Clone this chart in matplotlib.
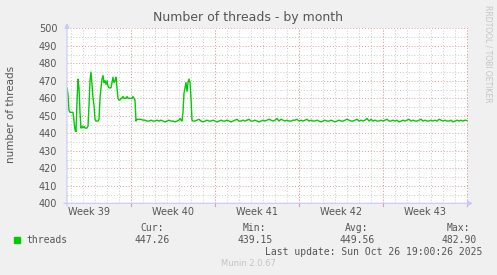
#!/usr/bin/env python3
"""Munin style 'Number of threads - by month' graph."""
import numpy as np
import matplotlib

matplotlib.use("Agg")
import matplotlib.pyplot as plt

# samples: (start hour, step in hours, values)
busy1_start, busy1_step = 0, 2
busy1 = [
    466, 462, 453, 452, 452, 452, 452, 447, 442, 441,
    458, 471, 466, 452, 443, 444, 443, 444, 443, 443,
    443, 444, 456, 470, 475, 468, 460, 456, 448, 447,
    447, 447, 448, 460, 466, 471, 473, 469, 470, 468,
    470, 467, 466, 466, 466, 469, 472, 469, 470, 472,
    466, 460, 459, 459, 460, 460, 461, 460, 460, 460,
    461, 460, 460, 460, 460, 460, 461, 460, 459, 447,
    448,
]
flat1_start, flat1_step = 144, 4
flat1 = [
    448, 448, 447.5, 447.5, 447, 447, 447.5, 447, 447, 447.5,
    447, 447.5, 447, 446.5, 447, 447.5, 447, 447, 446.5, 447,
    447.5,
]
busy2_start, busy2_step = 226, 2
busy2 = [448.5, 447.5, 447, 452, 463, 466, 469, 464, 469, 471, 469, 460, 447.5, 447]
flat2_start, flat2_step = 256, 4
flat2 = [
    447.0, 447.5, 448.0, 447.0, 446.5, 447.0, 447.5, 447.0, 447.0, 447.5,
    447.0, 446.5, 447.0, 447.5, 447.0, 447.0, 447.5, 447.0, 446.5, 447.0,
    447.5, 448.0, 447.0, 447.0, 447.5, 447.0, 447.5, 448.0, 447.0, 447.0,
    447.5, 447.0, 446.5, 447.0, 447.5, 447.0, 447.5, 448.0, 447.5, 447.0,
    447.5, 448.5, 447.0, 448.0, 447.5, 447.0, 447.5, 447.0, 447.0, 447.5,
    447.5, 448.0, 447.0, 447.5, 447.0, 447.5, 448.0, 447.0, 447.5, 447.0,
    447.0, 447.5, 447.0, 446.5, 447.0, 447.5, 447.0, 447.0, 447.5, 447.0,
    446.5, 447.0, 447.5, 447.0, 447.0, 447.5, 448.0, 447.5, 447.0, 447.0,
    447.5, 448.0, 447.0, 447.5, 447.0, 447.5, 448.5, 447.0, 448.0, 447.0,
    447.5, 447.0, 447.0, 447.5, 447.0, 447.5, 448.0, 447.0, 447.0, 447.5,
    447.0, 447.5, 446.5, 447.0, 447.5, 447.0, 447.5, 448.0, 447.0, 447.5,
    447.0, 447.0, 447.5, 448.0, 447.0, 447.5, 447.0, 447.0, 447.5, 447.0,
    447.5, 447.0, 448.0, 447.5, 447.0, 447.5, 447.0, 447.0, 447.5, 446.5,
    447.0, 447.5, 447.0, 447.5, 447.0, 447.5, 447.3,
]

week_labels = ["Week 39", "Week 40", "Week 41", "Week 42", "Week 43"]
week40_start = 128  # hours from graph start
legend_heads = ["Cur:", "Min:", "Avg:", "Max:"]
legend_values = ["447.26", "439.15", "449.56", "482.90"]

W, H = 497, 275
BG = "#F0F0F0"
TXT = "#555555"
GREEN = "#00CC00"
MINOR = "#CACACA"
MAJOR = "#E09C9C"


def segment(start, step, vals):
    return start + step * np.arange(len(vals)), np.array(vals, dtype=float)


segs = [
    segment(busy1_start, busy1_step, busy1),
    segment(flat1_start, flat1_step, flat1),
    segment(busy2_start, busy2_step, busy2),
    segment(flat2_start, flat2_step, flat2),
]
hours = np.concatenate([s[0] for s in segs])
threads = np.concatenate([s[1] for s in segs])

fig = plt.figure(figsize=(W / 100, H / 100), dpi=100, facecolor=BG)
ax = fig.add_axes([67 / W, (H - 203.3) / H, 401 / W, 175 / H])
ax.set_facecolor("white")
xmax = 802
ax.set_xlim(0, xmax)
ax.set_ylim(400, 500)
for s in ax.spines.values():
    s.set_visible(False)

# grid
dots = (0, (1, 2))
for d in np.arange(week40_start % 24, xmax, 24):
    ax.axvline(d, color=MINOR, lw=0.7, ls=dots, zorder=1)
for y in np.arange(405, 500, 10):
    ax.axhline(y, color=MINOR, lw=0.7, ls=dots, zorder=1)
for y in np.arange(410, 501, 10):
    ax.axhline(y, color=MAJOR, lw=0.7, ls=dots, zorder=2)
week_edges = np.arange(week40_start, xmax, 168)
for w in week_edges:
    ax.axvline(w, color=MAJOR, lw=0.7, ls=dots, zorder=2)

ax.plot(hours, threads, color=GREEN, lw=1.0, zorder=3)

# ticks
ax.set_yticks(np.arange(400, 501, 10))
ax.set_yticklabels([str(v) for v in range(400, 501, 10)])
ax.tick_params(axis="y", length=0, pad=7, labelsize=7, labelcolor=TXT)
mids = week40_start - 84 + 168 * np.arange(len(week_labels))
ax.set_xticks(mids)
ax.set_xticklabels(week_labels)
ax.tick_params(axis="x", length=0, pad=3, labelsize=7, labelcolor=TXT)
for w in week_edges:
    ax.plot([w, w], [400, 398.3], color=MAJOR, lw=0.8, clip_on=False)

# axes with arrows
axis_col = "#C8C8F8"
ax.annotate("", xy=(1.012, 0), xytext=(-0.008, 0), xycoords="axes fraction",
            arrowprops=dict(arrowstyle="-|>", color=axis_col, lw=0.8,
                            mutation_scale=7, shrinkA=0, shrinkB=0))
ax.annotate("", xy=(0, 1.03), xytext=(0, -0.015), xycoords="axes fraction",
            arrowprops=dict(arrowstyle="-|>", color=axis_col, lw=0.8,
                            mutation_scale=7, shrinkA=0, shrinkB=0))


def ftext(x, y, s, **kw):
    fig.text(x / W, 1 - y / H, s, **kw)


ftext(11, 114, "number of threads", fontsize=7.5, color=TXT, rotation=90,
      ha="center", va="center")
ftext(248, 18, "Number of threads - by month", fontsize=9, color=TXT,
      ha="center", va="center")
ftext(488, 5, "RRDTOOL / TOBI OETIKER", fontsize=5.5, color="#C4C4C4",
      rotation=270, ha="center", va="top")

mono = dict(family="DejaVu Sans Mono", fontsize=7, color=TXT, va="center")
head_x = [163.5, 266, 368, 470]
val_x = [169.5, 272.7, 374.5, 476.7]
for hx, vx, h, v in zip(head_x, val_x, legend_heads, legend_values):
    ftext(hx, 227.7, h, ha="right", **mono)
    ftext(vx, 240, v, ha="right", **mono)
fig.patches.append(plt.Rectangle((14 / W, 1 - 243 / H), 6 / W, 6 / H,
                                 transform=fig.transFigure, color=GREEN))
ftext(26.5, 240, "threads", ha="left", **mono)
ftext(482.7, 251.7, "Last update: Sun Oct 26 19:00:26 2025", ha="right", **mono)
ftext(248, 264, "Munin 2.0.67", fontsize=6, color="#C4C4C4",
      ha="center", va="center")

fig.savefig("out.png", dpi=100, facecolor=BG)
